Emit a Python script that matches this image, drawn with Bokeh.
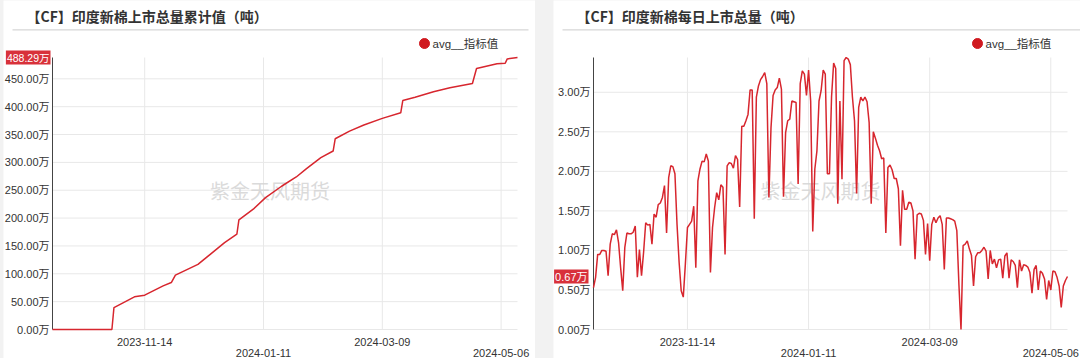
import pandas as pd
from bokeh.plotting import figure
from bokeh.models import Range1d, Label, Spacer, ColumnDataSource
from bokeh.core.properties import value
from bokeh.layouts import row
from bokeh.embed import file_html
from bokeh.resources import INLINE

# ---------------- data ----------------
x_start = "2023-09-30"
x_end = "2024-05-14"
tick_dates = ["2023-11-14", "2024-01-11", "2024-03-09", "2024-05-06"]

left_title = "【CF】印度新棉上市总量累计值（吨）"
right_title = "【CF】印度新棉每日上市总量（吨）"
series_name = "avg__指标值"
watermark = "紫金天风期货"

cum_dates = ["2023-09-30", "2023-10-29", "2023-10-30", "2023-11-09", "2023-11-14",
             "2023-11-23", "2023-11-27", "2023-11-29", "2023-12-10", "2023-12-16",
             "2023-12-23", "2023-12-29", "2023-12-30", "2024-01-06", "2024-01-12",
             "2024-01-20", "2024-01-27", "2024-02-01", "2024-02-08", "2024-02-14",
             "2024-02-15", "2024-02-22", "2024-02-29", "2024-03-09", "2024-03-18",
             "2024-03-19", "2024-03-25", "2024-04-03", "2024-04-11", "2024-04-22",
             "2024-04-24", "2024-05-04", "2024-05-08", "2024-05-09", "2024-05-14"]
cum_values = [0, 0, 39.4, 58.6, 61.6, 78.3, 84.3, 97.5, 117, 135,
              156, 171, 196.7, 216, 236.7, 257.6, 273.8, 288.7, 308.4, 320.4,
              342.4, 356.2, 367, 379, 389, 411, 417, 426.7, 433.9, 441.7,
              468.6, 477, 478, 485.8, 488.29]

daily_start = "2023-09-30"
daily_values = [
    0.53, 0.66, 0.95, 0.95, 1.00, 1.00, 0.99, 0.68, 1.08, 1.21,
    1.20, 1.26, 1.10, 0.78, 0.49, 1.04, 1.22, 1.21, 1.21, 1.23,
    1.31, 0.66, 1.01, 0.68, 0.98, 1.35, 1.32, 1.33, 1.08, 1.46,
    1.42, 1.58, 1.60, 1.67, 1.82, 1.22, 1.92, 2.07, 2.06, 1.97,
    1.33, 0.85, 0.49, 0.41, 0.83, 1.29, 1.33, 1.37, 1.56, 0.78,
    1.88, 2.03, 2.13, 2.12, 2.22, 2.13, 0.72, 1.29, 1.54, 1.73,
    1.64, 1.83, 1.80, 0.95, 2.07, 2.11, 2.10, 2.04, 2.20, 2.15,
    1.55, 2.57, 2.57, 2.64, 2.72, 3.03, 3.03, 1.40, 2.94, 3.08,
    3.16, 3.20, 3.25, 3.11, 1.67, 2.55, 2.96, 3.03, 3.06, 3.18,
    3.04, 1.68, 2.49, 2.64, 2.66, 2.89, 2.88, 2.87, 1.84, 3.11,
    3.27, 3.23, 2.96, 3.28, 2.89, 1.24, 2.03, 2.26, 2.89, 3.02,
    3.28, 3.23, 1.97, 1.97, 2.94, 3.37, 3.30, 1.59, 2.89, 1.90,
    3.40, 3.44, 3.42, 3.35, 2.94, 2.64, 1.72, 2.81, 2.94, 2.89,
    2.94, 2.88, 2.62, 1.59, 2.50, 2.42, 2.33, 2.26, 2.16, 2.17,
    1.22, 2.05, 2.08, 2.02, 1.91, 1.91, 1.78, 1.06, 1.76, 1.52,
    1.52, 1.61, 1.60, 1.50, 0.89, 1.45, 1.47, 1.46, 1.38, 0.95,
    1.34, 0.87, 1.33, 1.42, 1.35, 1.41, 1.44, 1.33, 0.76, 1.41,
    1.41, 1.40, 1.39, 1.37, 1.25, 0.57, 0.00, 1.06, 1.08, 1.12,
    1.02, 0.94, 0.55, 0.92, 0.97, 0.97, 1.00, 1.04, 0.99, 0.64,
    1.00, 0.83, 0.89, 0.78, 0.88, 0.89, 0.65, 0.93, 0.97, 0.65,
    0.88, 0.86, 0.81, 0.53, 0.88, 0.74, 0.82, 0.81, 0.79, 0.72,
    0.46, 0.76, 0.81, 0.50, 0.74, 0.71, 0.64, 0.38, 0.62, 0.50,
    0.74, 0.73, 0.66, 0.55, 0.28, 0.55, 0.62, 0.67]

left_yticks = [0, 50, 100, 150, 200, 250, 300, 350, 400, 450]
right_yticks = [0, 0.5, 1.0, 1.5, 2.0, 2.5, 3.0]

# ---------------- style ----------------
RED = "#d7262e"
TXT = "#333333"
GRID = "#e8e8e8"
NUM_FONT = "Liberation Sans, Noto Sans CJK SC"
CJK_FONT = "Noto Sans CJK SC"
H = 358
TOP = 57        # plot area top (px from canvas top)
BOTTOM = 29     # plot area distance from canvas bottom


def ms(d):
    return pd.Timestamp(d).value / 1e6


def panel(title, dates, values, yticks, width, area_left, area_w,
          title_px, rule_from, rule_to, legend_px, wm_dx, badge_right, badge_size):
    x0, x1 = ms(x_start), ms(x_end)
    ymax = max(values)
    area_h = H - TOP - BOTTOM
    mpp = (x1 - x0) / area_w           # x data units per pixel
    upp = ymax / area_h                # y data units per pixel

    xr = Range1d(x0 - area_left * mpp, x0 + (width - area_left) * mpp)
    yr = Range1d(-BOTTOM * upp, ymax + TOP * upp)

    def X(px):
        return xr.start + px * mpp

    def Y(py):
        return yr.end - py * upp

    p = figure(width=width, height=H, x_range=xr, y_range=yr,
               x_axis_location=None, y_axis_location=None,
               output_backend="svg", toolbar_location=None,
               min_border=0, min_border_left=0, min_border_right=0,
               min_border_top=0, min_border_bottom=0,
               background_fill_color="white", border_fill_color="white",
               outline_line_color=None)
    p.grid.grid_line_color = None

    tick_ms = [ms(t) for t in tick_dates]

    # grid lines
    p.segment(x0=[x0] * len(yticks), x1=[x1] * len(yticks), y0=yticks, y1=yticks,
              line_color=GRID, line_width=1)
    p.segment(x0=tick_ms, x1=tick_ms, y0=[0] * len(tick_ms), y1=[ymax] * len(tick_ms),
              line_color=GRID, line_width=1)
    # y axis line
    p.segment(x0=[x0], x1=[x0], y0=[0], y1=[ymax], line_color="#444444", line_width=1)

    # y tick labels
    p.text(x=[x0] * len(yticks), y=yticks, text=[f"{v:.2f}万" for v in yticks],
           x_offset=-3, text_align="right", text_baseline="middle",
           text_font=value(NUM_FONT), text_font_size="11px", text_color=TXT)

    # x tick labels (staggered)
    p.text(x=tick_ms, y=[Y(H - BOTTOM + 12.5), Y(H - BOTTOM + 23)] * 2, text=tick_dates,
           text_align="center", text_baseline="middle",
           text_font=value(NUM_FONT), text_font_size="11px", text_color=TXT)

    # watermark
    p.text(x=[(x0 + x1) / 2 + wm_dx * mpp], y=[Y(190)], text=[watermark],
           text_align="center", text_baseline="middle",
           text_font=value(CJK_FONT), text_font_size="20px",
           text_color="#d4d4d4", text_alpha=0.85)

    # data line
    src = ColumnDataSource(dict(date=[ms(d) for d in dates], value=values))
    p.line(x="date", y="value", source=src, line_color=RED, line_width=1.5)

    # title + rule
    p.text(x=[X(title_px)], y=[Y(15.5)], text=[title], text_align="left",
           text_baseline="middle", text_font=value(CJK_FONT), text_font_style="bold",
           text_font_size="14px", text_color=TXT)
    p.segment(x0=[X(rule_from)], x1=[X(rule_to)], y0=[Y(29.4)], y1=[Y(29.4)],
              line_color="#cccccc", line_width=1)

    # legend
    p.scatter(x=[X(legend_px)], y=[Y(43)], size=10, marker="circle",
              fill_color="#d0191f", line_color="#d0191f")
    p.text(x=[X(legend_px + 8)], y=[Y(43)], text=[series_name], text_align="left",
           text_baseline="middle", text_font=value(NUM_FONT), text_font_size="11.5px",
           text_color=TXT)

    # last value badge
    last = values[-1]
    p.add_layout(Label(x=X(badge_right), y=last, text=f"{last:.2f}万",
                       text_font=NUM_FONT, text_font_size=badge_size, text_color="white",
                       background_fill_color="#d8313a", padding=1,
                       text_align="right", text_baseline="middle"))
    return p


left = panel(left_title, cum_dates, cum_values, left_yticks,
             width=532, area_left=49, area_w=465,
             title_px=23, rule_from=9, rule_to=525, legend_px=421, wm_dx=-15,
             badge_right=47, badge_size="10.5px")

daily_dates = list(pd.date_range(daily_start, periods=len(daily_values), freq="D").strftime("%Y-%m-%d"))
right = panel(right_title, daily_dates, daily_values, right_yticks,
              width=527, area_left=40, area_w=474,
              title_px=23, rule_from=9, rule_to=527, legend_px=424, wm_dx=-10,
              badge_right=35, badge_size="11px")

layout = row(Spacer(width=3, height=H), left, Spacer(width=18, height=H), right,
             spacing=0, styles={"background-color": "#f2f2f2"})

open("out.html", "w").write(file_html(layout, INLINE))
